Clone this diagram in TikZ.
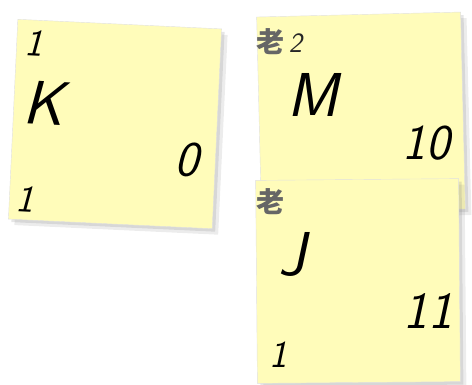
\documentclass[tikz,border=0pt]{standalone}
\usepackage{fontspec}
\newfontfamily\cjk{Noto Sans CJK SC}
\usepackage{tikz}
\usetikzlibrary{shadows}

\definecolor{notey}{RGB}{255,252,186}

\begin{document}
\begin{tikzpicture}[x=1pt,y=1pt,
          note/.style={fill=notey,draw=black!12,line width=0.4pt,
            minimum width=204pt,minimum height=200pt,inner sep=0pt,
            drop shadow={opacity=0.15,shadow xshift=6pt,shadow yshift=-6pt},
            drop shadow={opacity=0.2,shadow xshift=3pt,shadow yshift=-3pt}},
          hand/.style={font=\sffamily\itshape\fontsize{62}{62}\selectfont,inner sep=0pt},
          small/.style={font=\sffamily\itshape\fontsize{38}{38}\selectfont,inner sep=0pt},
          rank/.style={font=\cjk\bfseries\fontsize{28}{28}\selectfont,text=black!60,inner sep=0pt}]
        \useasboundingbox (0,0) rectangle (472,384);
        % the three notes
        \node[note,rotate=-2.7] (k) at (115,260) {};
        \node[note,rotate=1.4,minimum height=197pt] (m) at (361,271) {};
        \node[note,rotate=0.5,minimum width=203pt,minimum height=203pt] (j) at (358,103) {};
        % note K
        \node[small,rotate=-3] (k1) at (34,341) {1};
        \node[hand,rotate=-3] (kk) at (44,281) {K};
        \node[hand,rotate=-3,font=\sffamily\itshape\fontsize{50}{50}\selectfont] (k0) at (187,224) {0};
        \node[small,rotate=-3] (k2) at (25,185) {1};
        % note M
        \node[rank,anchor=west] (m2) at (256,342) {老\,{\mdseries\sffamily\itshape\color{black!85}2}};
        \node[hand] (mm) at (313,289) {M};
        \node[hand,font=\sffamily\itshape\fontsize{50}{50}\selectfont] (m10) at (426,241) {10};
        % note J
        \node[rank,anchor=west] (j0) at (256,182) {老};
        \node[hand] (jj) at (292,130) {J};
        \node[hand,font=\sffamily\itshape\fontsize{52}{52}\selectfont] (j11) at (428,73) {11};
        \node[small] (j1) at (278,29) {1};
      \end{tikzpicture}
\end{document}
